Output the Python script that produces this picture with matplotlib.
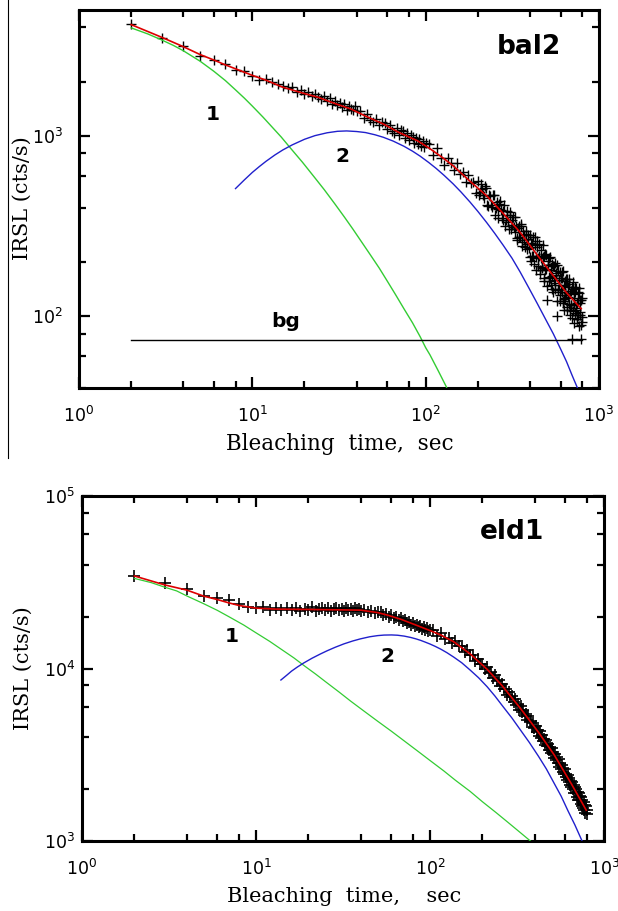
import matplotlib
matplotlib.use("Agg")
import matplotlib.pyplot as plt
from matplotlib.ticker import LogLocator, NullFormatter
from matplotlib.lines import Line2D

# measurement times (s), shared by both samples
t_meas = [2, 3, 4, 5, 6, 7, 8, 9, 10, 11, 12, 13, 14, 15, 16, 17, 18, 19, 20, 21,
          22, 23, 24, 25, 26, 27, 28, 29, 30, 31, 32, 33, 34, 35, 36, 37, 38, 39, 40,
          42, 44, 46, 48, 50, 52, 54, 56, 58, 60, 62, 64, 66, 68, 70, 72, 74, 76, 78, 80,
          82, 84, 86, 88, 90, 92, 94, 96, 98, 100,
          104, 110, 116, 122, 128, 134, 140, 146, 152, 158, 164, 170, 176, 182, 188, 194,
          200, 206, 212, 218,
          224, 230, 236, 242, 248, 254, 260, 266, 272, 278, 284, 290, 296, 302, 308, 314,
          320, 326, 332, 338, 344, 350, 356, 362, 368, 374, 380, 386, 392, 398,
          404, 410, 416, 422, 428, 434, 440, 446, 452, 458, 464, 470, 476, 482, 488, 494,
          500, 506, 512, 518, 524, 530, 536, 542,
          548, 554, 560, 566, 572, 578, 584, 590, 596, 602, 608, 614, 620, 626, 632, 638, 644,
          650, 656, 662, 668, 674, 680, 686, 692, 698, 704, 710, 716, 722, 728, 734, 740,
          746, 752, 758, 764, 770, 776, 782, 788, 794, 800]

# --- bal2 ---
irsl_bal2 = [4180, 3500, 3150, 2790, 2650, 2500, 2330, 2280, 2140, 2050, 2070, 1990, 1950,
             1890, 1840, 1860, 1760, 1800, 1710, 1750, 1660, 1720, 1640, 1600, 1670, 1570,
             1620, 1500, 1560, 1480, 1530, 1450, 1510, 1400, 1470, 1420, 1390, 1460, 1370,
             1370, 1260, 1320, 1230, 1190, 1250, 1150, 1200, 1180, 1090, 1150, 1070, 1040,
             1110, 1010, 1080, 1060, 970, 1040, 950, 1010, 990, 920, 980, 900, 960, 880, 940,
             870, 910,
             900, 788, 854, 756, 693, 757, 705, 649, 704, 612, 628, 556, 608, 551, 553, 485,
             560, 486, 510, 455,
             515, 410, 466, 406, 472, 399, 353, 419, 387, 341, 414, 344, 364, 305, 366, 322,
             357, 294, 316, 264, 316, 277, 326, 259, 283, 242, 285, 251, 284, 214,
             256, 217, 275, 194, 247, 212, 263, 189, 216, 171, 232, 187, 212, 156, 221, 183,
             123, 202, 156, 211, 162, 180, 142, 189,
             158, 198, 141, 170, 100, 140, 179, 149, 122, 163, 137, 177, 122, 148, 109, 157, 131,
             161, 113, 135, 117, 151, 102, 138, 116, 75, 154, 107, 126, 92, 136, 111, 143,
             96, 123, 101, 135, 88, 123, 101, 75, 127, 93]

# bal2 readings in between the main ones (the tail is sampled every second)
t_extra_bal2 = [203, 209, 215, 221, 227, 233, 239, 245, 251, 257, 263, 269, 275, 281, 287,
                293, 299, 305, 311, 317, 323, 329, 335, 341, 347, 353, 359, 365, 371, 377,
                383, 389, 395,
                401, 407, 413, 419, 425, 431, 437, 443, 449, 455, 461, 467, 473, 479, 485,
                491, 497, 503, 509, 515, 521, 527, 533, 539, 545, 551, 557, 563, 569, 575,
                581, 587, 593, 599, 605, 611, 617, 623, 629, 635, 641, 647, 653, 659, 665,
                671, 677, 683, 689, 695, 701, 707, 713, 719, 725, 731, 737, 743, 749, 755,
                761, 767, 773, 779, 785, 791, 797]
irsl_extra_bal2 = [472, 540, 470, 531, 416, 468, 416, 470, 366, 430, 393, 438, 349, 382, 315,
                   382, 333, 377, 303, 342, 313, 357, 273, 307, 277, 318, 244, 297, 264, 299,
                   236, 267, 239,
                   284, 203, 251, 217, 277, 180, 241, 210, 253, 181, 211, 185, 248, 164, 215,
                   181, 220, 147, 192, 166, 214, 149, 194, 167, 136, 191, 153, 174, 122, 192,
                   140, 158, 131, 177, 142, 164, 118, 178, 125, 149, 127, 160, 108, 146, 128,
                   161, 109, 134, 116, 146, 98, 141, 117, 133, 104, 145, 109, 119, 97, 136,
                   101, 144, 106, 119, 89, 123, 99]

fit_t_bal2 = [2, 3, 4, 5, 6, 7, 8, 10, 12, 15, 20, 24, 30, 37, 45, 57, 70, 90, 106, 125,
              144, 180, 225, 280, 351, 440, 545, 650, 790]
fit_bal2 = [4150, 3530, 3130, 2830, 2640, 2480, 2360, 2170, 2040, 1865, 1720, 1640, 1514,
            1413, 1290, 1166, 1047, 940, 850, 760, 684, 562, 466, 372, 292, 219, 168, 135, 110]

c1_t_bal2 = [2, 2.5, 3, 3.5, 4, 5, 6, 7, 8, 9, 10, 11.5, 13, 14.7, 16.4, 19.5, 23, 26, 30,
             34, 38, 43, 48, 54, 60, 67, 75, 84, 93, 100, 106, 118, 131, 136]
c1_bal2 = [3981, 3681, 3412, 3184, 2972, 2600, 2286, 2028, 1803, 1622, 1466, 1276, 1122, 986,
           869, 714, 585, 504, 419, 355, 305, 256, 219, 185, 157, 132, 110, 92, 77, 67, 61,
           50, 41, 37.6]

c2_t_bal2 = [8, 9, 10, 11, 12, 13.5, 15, 17, 20, 23, 27, 31, 35, 40, 45, 51, 57, 65, 75, 84,
             93, 104, 115, 128, 144, 160, 180, 200, 225, 250, 280, 315, 351, 395, 440, 490,
             545, 600, 650, 700, 760]
c2_bal2 = [511, 571, 628, 678, 724, 785, 837, 893, 959, 1005, 1042, 1062, 1067, 1059, 1045,
           1016, 984, 937, 877, 824, 773, 714, 661, 604, 543, 489, 431, 382, 331, 289, 248,
           210, 176, 143, 118, 97, 80, 66, 56, 47, 39]

bg_t_bal2 = [2, 800]
bg_bal2 = [74, 74]

# --- eld1 ---
irsl_eld1 = [34500, 31200, 28800, 26400, 25800, 24900, 23700, 22800, 22300, 22600, 21800,
             22400, 21700, 22300, 21900, 22500, 21600, 22200, 21800, 22600, 21500, 22100,
             22400, 21700, 22300, 21600, 22000, 22500, 21700, 22200, 21500, 22400, 21900,
             22100, 21600, 22300, 21800, 22000, 21500,
             21900, 21400, 21600, 21000, 21300, 21200, 20400, 20800, 20000, 20300, 19600,
             19900, 19200, 19600, 18800, 19100, 18400, 18700, 18000, 18400, 17700, 18000,
             17400, 17700, 17000, 17300, 16700, 17100, 16400, 16800,
             16660, 15480, 16070, 14870, 14940, 14020, 14480, 13480, 13470, 12460, 12840,
             11920, 12020, 11090, 11420, 10660, 10680, 9880, 10230, 9440,
             9550, 8810, 9180, 8420, 8530, 7910, 8180, 7570, 7660, 7020, 7320, 6860, 6900,
             6390, 6690, 6150, 6240, 5740, 6040, 5600, 5750, 5300, 5440, 5050, 5290, 4890,
             4990, 4600, 4830, 4500,
             4640, 4290, 4420, 4080, 4320, 3980, 4110, 3790, 3920, 3610, 3840, 3550, 3670,
             3390, 3500, 3240, 3440, 3190, 3300, 3020, 3200, 2940, 3060, 2820,
             2970, 2700, 2830, 2620, 2760, 2510, 2640, 2440, 2600, 2340, 2460, 2260, 2410,
             2210, 2330, 2120, 2240,
             2050, 2210, 2010, 2100, 1900, 2050, 1890, 2010, 1800, 1920, 1740, 1890, 1720,
             1820, 1640, 1790, 1600, 1720, 1550, 1690, 1520, 1620, 1460, 1600, 1440, 1520]

fit_t_eld1 = [2, 3, 4, 5, 6, 7, 8, 10, 13, 20, 30, 40, 50, 57, 68, 78, 88, 100, 115, 137,
              170, 213, 260, 331, 420, 517, 650, 790]
fit_eld1 = [34400, 30500, 28500, 26300, 25100, 24000, 23200, 22400, 22100, 22000, 21900,
            21800, 21100, 20400, 19300, 18300, 17460, 16600, 15670, 14290, 12160, 9890,
            7940, 5870, 4270, 3160, 2140, 1510]

c1_t_eld1 = [2, 2.5, 3, 3.5, 4, 5, 6, 7, 8.5, 10, 12, 14, 16.5, 19, 22, 25, 30, 35, 42, 50,
             60, 70, 85, 100, 120, 140, 170, 200, 240, 280, 330, 380]
c1_eld1 = [33300, 31480, 29580, 28180, 26360, 23770, 21730, 19950, 17870, 16110, 14360,
           12910, 11530, 10350, 9290, 8410, 7310, 6470, 5640, 4950, 4330, 3850, 3320, 2930,
           2550, 2250, 1940, 1690, 1460, 1285, 1120, 995]

c2_t_eld1 = [13.9, 15, 16, 17.3, 18.8, 21, 23.5, 25.6, 28.5, 32, 36, 39.8, 45, 50, 54.4,
             60, 65, 71, 77.5, 83, 88.4, 94, 100, 107, 115, 125, 137, 152, 170, 190, 213,
             236, 260, 295, 331, 372, 420, 466, 517, 567, 620, 680, 748]
c2_eld1 = [8580, 9140, 9660, 10210, 10770, 11480, 12160, 12670, 13280, 13900, 14450, 14860,
           15280, 15520, 15630, 15660, 15600, 15420, 15140, 14860, 14560, 14220, 13870, 13450,
           12970, 12360, 11640, 10810, 9800, 8850, 7840, 6930, 6100, 5180, 4400, 3730, 3100,
           2620, 2160, 1820, 1500, 1240, 1000]

RED, GREEN, BLUE = "#dd0000", "#33cc33", "#2020cc"
SERIF = "DejaVu Serif"


def style_axes(ax, ylim, ypad):
    ax.set_xscale("log")
    ax.set_yscale("log")
    ax.set_xlim(1, 1000)
    ax.set_ylim(*ylim)
    for axis in (ax.xaxis, ax.yaxis):
        axis.set_major_locator(LogLocator(base=10, numticks=10))
        axis.set_minor_locator(LogLocator(base=10, subs=(2, 4, 6, 8), numticks=20))
        axis.set_minor_formatter(NullFormatter())
    ax.tick_params(which="both", direction="in", top=True, right=True, width=1.6)
    ax.tick_params(which="major", length=8)
    ax.tick_params(which="minor", length=5)
    ax.tick_params(axis="x", which="major", pad=13, labelsize=12.5)
    ax.tick_params(axis="y", which="major", pad=ypad, labelsize=12.5)
    for s in ax.spines.values():
        s.set_linewidth(2.2)


fig = plt.figure(figsize=(6.18, 9.11), dpi=100)

# top panel: bal2
ax = fig.add_axes([0.1278, 0.5741, 0.8414, 0.4149])
style_axes(ax, (40, 5000), 11.5)
ax.plot(t_meas, irsl_bal2, ls="none", marker="+", ms=6.5, mew=1.0, color="black", zorder=2)
ax.plot(t_extra_bal2, irsl_extra_bal2, ls="none", marker="+", ms=6.5, mew=1.0,
        color="black", zorder=2)
ax.plot(c1_t_bal2, c1_bal2, color=GREEN, lw=1.0, zorder=3)
ax.plot(c2_t_bal2, c2_bal2, color=BLUE, lw=1.0, zorder=3)
ax.plot(bg_t_bal2, bg_bal2, color="black", lw=1.0, zorder=3)
ax.plot(fit_t_bal2, fit_bal2, color=RED, lw=1.2, zorder=4)
ax.text(5.9, 1309, "1", fontsize=14.5, fontweight="bold", ha="center", va="center")
ax.text(33, 767, "2", fontsize=14.5, fontweight="bold", ha="center", va="center")
ax.text(15.6, 94, "bg", fontsize=14.5, fontweight="bold", ha="center", va="center")
ax.text(0.865, 0.903, "bal2", transform=ax.transAxes, fontsize=19, fontweight="bold",
        ha="center", va="center")

# bottom panel: eld1
bx = fig.add_axes([0.1327, 0.0768, 0.8447, 0.3787])
style_axes(bx, (1000, 100000), 5)
bx.plot(t_meas, irsl_eld1, ls="none", marker="+", ms=8.5, mew=1.2, color="black", zorder=2)
bx.plot(c1_t_eld1, c1_eld1, color=GREEN, lw=0.9, zorder=3)
bx.plot(c2_t_eld1, c2_eld1, color=BLUE, lw=1.0, zorder=3)
bx.plot(fit_t_eld1, fit_eld1, color=RED, lw=1.2, zorder=4)
bx.text(7.2, 15300, "1", fontsize=14.5, fontweight="bold", ha="center", va="center")
bx.text(57, 11700, "2", fontsize=14.5, fontweight="bold", ha="center", va="center")
bx.text(0.823, 0.897, "eld1", transform=bx.transAxes, fontsize=19, fontweight="bold",
        ha="center", va="center")

# axis titles (serif, as in the source figure)
W, H = 618, 911
fig.text(22 / W, 1 - 198 / H, "IRSL (cts/s)", rotation=90, ha="center", va="center",
         family=SERIF, fontsize=15)
fig.text(340 / W, 1 - 444 / H, "Bleaching  time,  sec", ha="center", va="center",
         family=SERIF, fontsize=15.5)
fig.text(23 / W, 1 - 668 / H, "IRSL (cts/s)", rotation=90, ha="center", va="center",
         family=SERIF, fontsize=15)
fig.text(344 / W, 1 - 896 / H, "Bleaching  time,    sec", ha="center", va="center",
         family=SERIF, fontsize=15)

# thin rule at the left edge of the upper panel
fig.add_artist(Line2D([8 / W, 8 / W], [1, 1 - 458 / H], color="black", lw=0.8))

fig.savefig("out.png", dpi=100)
